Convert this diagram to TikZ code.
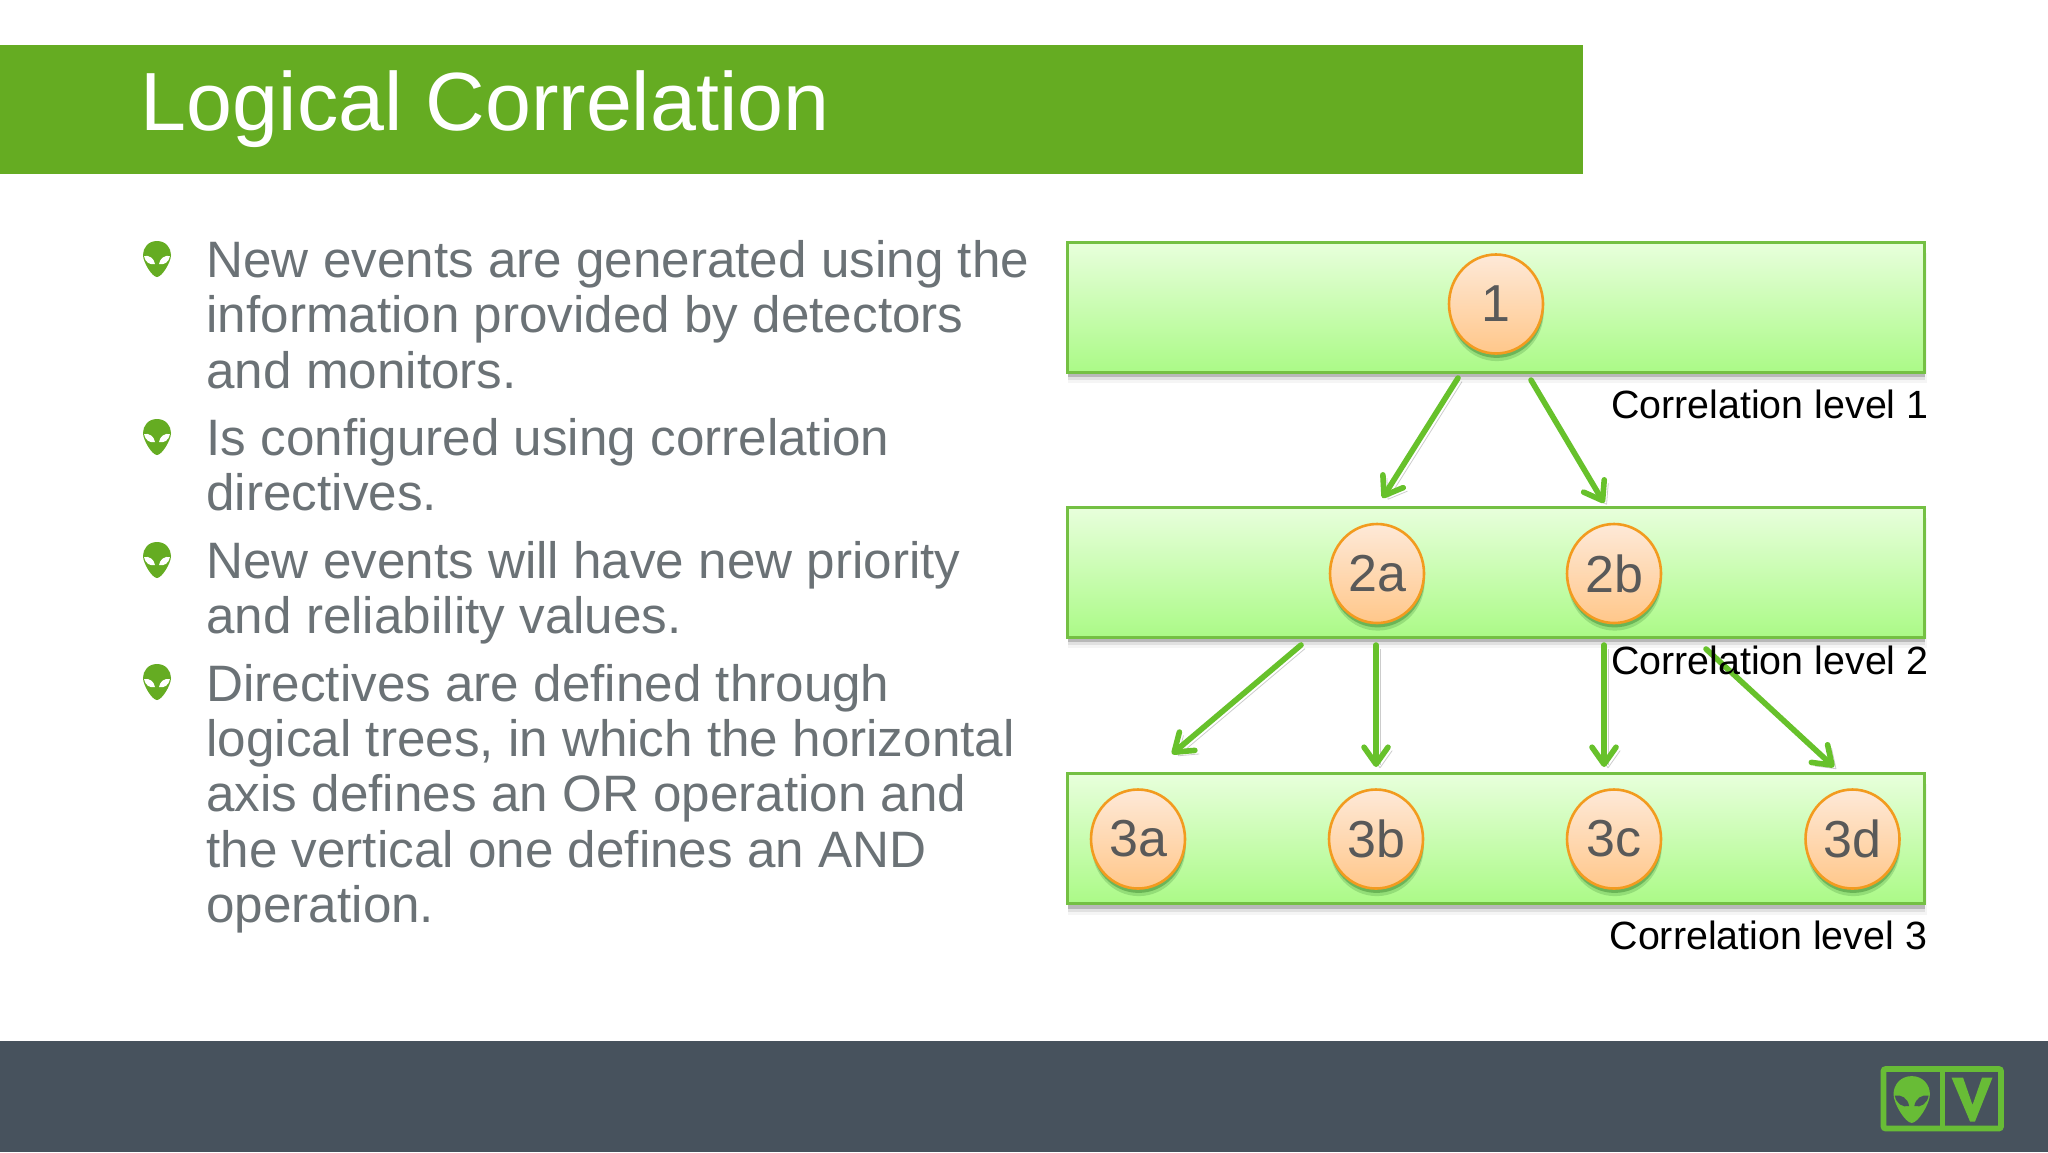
\documentclass[tikz,border=0pt]{standalone}
\usepackage{fontspec}
\setmainfont{Liberation Sans}
\usetikzlibrary{shapes.geometric,arrows.meta,shadows,fadings}
\definecolor{hdrgreen}{HTML}{65AC22}
\definecolor{footgray}{HTML}{47525D}
\definecolor{bodygray}{HTML}{6B7276}
\definecolor{edgegreen}{HTML}{74C043}
\definecolor{arrgreen}{HTML}{67C12B}
\definecolor{logogreen}{HTML}{68BC36}
\definecolor{circtext}{HTML}{595959}
\definecolor{HTMLtop}{HTML}{E8FFDC}
\definecolor{HTMLbot}{HTML}{ABFA87}
\definecolor{HTMLring}{HTML}{F29B1F}
\definecolor{HTMLctop}{HTML}{FEE9D8}
\definecolor{HTMLcbot}{HTML}{FFC78A}
\tikzset{
  x=.5pt,y=-.5pt,
  softshadow/.style={
    general shadow={fill=black,opacity=.04,shadow xshift=.9pt,shadow yshift=-5.5pt,shadow scale=1.002},
    general shadow={fill=black,opacity=.08,shadow xshift=.7pt,shadow yshift=-4pt},
    general shadow={fill=black,opacity=.18,shadow xshift=.5pt,shadow yshift=-2.6pt}},
  panel/.style={rectangle,draw=edgegreen,line width=1.5pt,top color=HTMLtop,bottom color=HTMLbot,
    minimum width=428.5pt,minimum height=65pt,inner sep=0pt,softshadow},
  level/.style={ellipse,draw=HTMLring,line width=1.3pt,top color=HTMLctop,bottom color=HTMLcbot,
    minimum width=47pt,minimum height=49.5pt,inner sep=0pt,text=circtext,
    font=\fontsize{26}{26}\selectfont,
    general shadow={fill=black!70!green,opacity=.16,shadow yshift=-3.8pt,shadow xshift=.4pt},
    general shadow={fill=black!70!green,opacity=.28,shadow yshift=-2.2pt,shadow xshift=.3pt}},
  para/.style={anchor=north west,inner sep=0pt,outer sep=0pt,align=left,text=bodygray,
    font=\fontsize{25.6}{27.65}\selectfont,execute at begin node={\rule{0pt}{18pt}}},
  levellabel/.style={anchor=base east,inner sep=0pt,text=black,font=\fontsize{19.7}{22}\selectfont},
  link/.style={draw=arrgreen,line width=2.8pt,line cap=round,
    -{Straight Barb[length=8.5pt,width=12pt,round]},
    preaction={draw=black,draw opacity=.2,transform canvas={xshift=2pt,yshift=-1.8pt}}},
  pics/alien/.style 2 args={code={
    \fill[#1] (0,-18) .. controls (9,-18) and (14,-11) .. (14,-4)
      .. controls (14,3) and (5,18) .. (0,18)
      .. controls (-5,18) and (-14,3) .. (-14,-4)
      .. controls (-14,-11) and (-9,-18) .. (0,-18) -- cycle;
    \fill[#2] (-13,-3) .. controls (-8,-4) and (-3,-1) .. (-2,5)
      .. controls (-7,6.5) and (-12,3) .. (-13,-3) -- cycle;
    \fill[#2] (13,-3) .. controls (8,-4) and (3,-1) .. (2,5)
      .. controls (7,6.5) and (12,3) .. (13,-3) -- cycle;
  }}
}
\begin{document}
\begin{tikzpicture}
\useasboundingbox (0,0) rectangle (2048,1152);
\fill[white] (0,0) rectangle (2048,1152);
% header and footer
\fill[hdrgreen] (0,45) rectangle (1583,174);
\fill[footgray] (0,1041) rectangle (2048,1152);
\node[anchor=base west,inner sep=0pt,text=white,font=\fontsize{41.3}{41}\selectfont] (title) at (140.5,130) {Logical Correlation};
% bullets
\pic at (157,259) {alien={hdrgreen}{white}};
\pic at (157,437) {alien={hdrgreen}{white}};
\pic at (157,560) {alien={hdrgreen}{white}};
\pic at (157,682) {alien={hdrgreen}{white}};
\node[para] (p1) at (206.5,240.5) {New events are generated using the\\information provided by detectors\\and monitors.};
\node[para] (p2) at (206.5,418.5) {Is configured using correlation\\directives.};
\node[para] (p3) at (206.5,541) {New events will have new priority\\and reliability values.};
\node[para] (p4) at (206.5,664) {Directives are defined through\\logical trees, in which the horizontal\\axis defines an OR operation and\\the vertical one defines an AND\\operation.};
% panels
\node[panel] (L1) at (1495.5,307) {};
\node[panel] (L2) at (1495.5,572) {};
\node[panel] (L3) at (1495.5,838.5) {};
% circles
\node[level] (n1) at (1496,304) {1};
\node[level] (n2a) at (1377,573.5) {2a};
\node[level] (n2b) at (1614,573.5) {2b};
\node[level] (n3a) at (1138,839) {3a};
\node[level] (n3b) at (1376,839) {3b};
\node[level] (n3c) at (1614,839) {3c};
\node[level] (n3d) at (1852.5,839) {3d};
% connector ends
\coordinate (a1s) at (1458,378); \coordinate (a1e) at (1382.5,498);
\coordinate (a2s) at (1531,380); \coordinate (a2e) at (1604,503);
\coordinate (a3s) at (1301,645); \coordinate (a3e) at (1172,754);
\coordinate (a4s) at (1376,645); \coordinate (a4e) at (1376,767);
\coordinate (a5s) at (1604,645); \coordinate (a5e) at (1604,767);
\coordinate (a6s) at (1706,649); \coordinate (a6e) at (1834,767);
\draw[link] (a1s) -- (a1e);
\draw[link] (a2s) -- (a2e);
\draw[link] (a3s) -- (a3e);
\draw[link] (a4s) -- (a4e);
\draw[link] (a5s) -- (a5e);
\draw[link] (a6s) -- (a6e);
% level labels
\node[levellabel] (c1) at (1929,418) {Correlation level 1};
\node[levellabel] (c2) at (1929,674) {Correlation level 2};
\node[levellabel] (c3) at (1927.5,949) {Correlation level 3};
% logo
\draw[logogreen,line width=2.8pt,rounded corners=1pt] (1883.5,1069) rectangle (2001,1128.5);
\draw[logogreen,line width=2.6pt] (1942.7,1069) -- (1942.7,1128.5);
\pic[scale=1.3] at (1911.7,1099.5) {alien={logogreen}{footgray}};
\fill[logogreen] (1951.5,1077.5) -- (1963,1077.5) -- (1972.5,1105) -- (1982,1077.5) -- (1992.5,1077.5) -- (1975,1121.5) -- (1970,1121.5) -- cycle;
\end{tikzpicture}
\end{document}
